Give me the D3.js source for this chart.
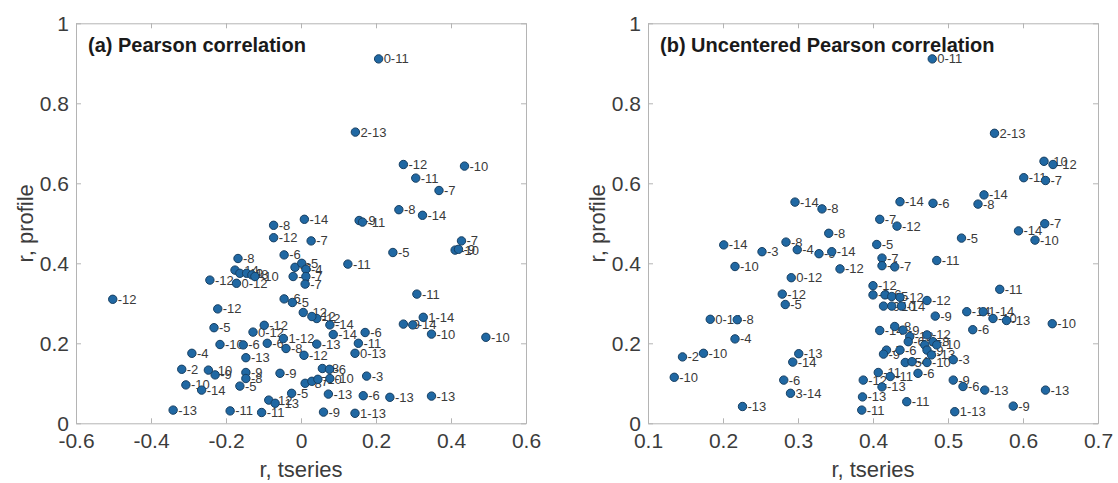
<!DOCTYPE html>
<html>
<head>
<meta charset="utf-8">
<script src="https://cdn.jsdelivr.net/npm/d3@7"></script>
<style>
    body { margin: 0; background: #fff; }
    text { font-family: "Liberation Sans", Arial, sans-serif; }
</style>
</head>
<body>
<script>
const yTicks = [0, 0.2, 0.4, 0.6, 0.8, 1];
const pearsonTicks = [-0.6, -0.4, -0.2, 0, 0.2, 0.4, 0.6];
const uncenteredTicks = [0.1, 0.2, 0.3, 0.4, 0.5, 0.6, 0.7];

// [r tseries, r profile, label]
const pearsonPoints = [
    [0.207, 0.911, '0-11'], [0.145, 0.728, '2-13'], [0.273, 0.647, '-12'], [0.436, 0.643, '-10'],
    [0.306, 0.613, '-11'], [0.368, 0.582, '-7'], [0.261, 0.534, '-8'], [0.324, 0.520, '-14'],
    [0.155, 0.507, '-9'], [0.164, 0.503, '-11'], [0.009, 0.510, '-14'], [-0.073, 0.495, '-8'],
    [-0.073, 0.464, '-12'], [0.027, 0.456, '-7'], [0.245, 0.427, '-5'], [0.428, 0.456, '-7'],
    [0.411, 0.433, '-10'], [0.420, 0.435, '-9'], [0.125, 0.398, '-11'], [-0.045, 0.421, '-6'],
    [-0.016, 0.390, '-3'], [0.002, 0.400, '-5'], [0.013, 0.385, '-4'], [-0.021, 0.367, '-2'],
    [0.013, 0.367, '-7'], [0.011, 0.348, '-7'], [-0.168, 0.412, '-8'], [-0.176, 0.383, '-14'],
    [-0.163, 0.375, '-11'], [-0.145, 0.375, '-9'], [-0.131, 0.371, '-8'], [-0.123, 0.367, '-10'],
    [-0.172, 0.350, '0-12'], [-0.243, 0.358, '-12'], [-0.502, 0.310, '-12'], [-0.222, 0.286, '-12'],
    [-0.232, 0.239, '-5'], [-0.216, 0.197, '-10'], [-0.154, 0.196, '-6'], [-0.128, 0.228, '0-12'],
    [-0.098, 0.245, '-12'], [-0.090, 0.200, '-6'], [-0.047, 0.212, '1-12'], [-0.040, 0.187, '-8'],
    [-0.291, 0.175, '-4'], [-0.147, 0.164, '-13'], [-0.318, 0.135, '-2'], [-0.247, 0.133, '-10'],
    [-0.229, 0.121, '-9'], [-0.147, 0.127, '-9'], [-0.147, 0.112, '-8'], [-0.163, 0.093, '-5'],
    [-0.056, 0.125, '-9'], [-0.307, 0.096, '-10'], [-0.265, 0.083, '-14'], [-0.341, 0.033, '-13'],
    [-0.189, 0.031, '-11'], [-0.105, 0.027, '-11'], [-0.086, 0.058, '-12'], [-0.069, 0.050, '-13'],
    [-0.025, 0.075, '-5'], [0.060, 0.028, '-9'], [0.011, 0.100, '-8'], [0.029, 0.105, '-7'],
    [0.045, 0.110, '-10'], [0.057, 0.137, '-8'], [0.076, 0.135, '-6'], [0.077, 0.112, '-10'],
    [0.073, 0.073, '-13'], [0.166, 0.069, '-6'], [0.144, 0.025, '1-13'], [0.175, 0.118, '-3'],
    [0.144, 0.175, '0-13'], [0.153, 0.200, '-11'], [0.171, 0.227, '-6'], [0.086, 0.222, '-14'],
    [0.077, 0.246, '-14'], [0.042, 0.262, '-12'], [0.029, 0.267, '-12'], [0.006, 0.277, '-12'],
    [0.042, 0.198, '-13'], [0.008, 0.170, '-12'], [-0.045, 0.311, '-6'], [-0.023, 0.302, '-5'],
    [0.309, 0.323, '-11'], [0.273, 0.248, '-9'], [0.298, 0.246, '-14'], [0.326, 0.265, '1-14'],
    [0.348, 0.223, '-10'], [0.493, 0.215, '-10'], [0.237, 0.065, '-13'], [0.348, 0.068, '-13']
];

const uncenteredPoints = [
    [0.479, 0.911, '0-11'], [0.562, 0.725, '2-13'], [0.628, 0.655, '-10'], [0.640, 0.647, '-12'],
    [0.601, 0.614, '-11'], [0.630, 0.607, '-7'], [0.548, 0.571, '-14'], [0.540, 0.548, '-8'],
    [0.296, 0.553, '-14'], [0.332, 0.536, '-8'], [0.436, 0.554, '-14'], [0.480, 0.550, '-6'],
    [0.409, 0.510, '-7'], [0.432, 0.493, '-12'], [0.629, 0.499, '-7'], [0.594, 0.481, '-14'],
    [0.616, 0.458, '-10'], [0.518, 0.463, '-5'], [0.341, 0.475, '-8'], [0.201, 0.446, '-14'],
    [0.252, 0.429, '-3'], [0.284, 0.453, '-8'], [0.299, 0.434, '-4'], [0.328, 0.424, '-9'],
    [0.345, 0.429, '-14'], [0.405, 0.447, '-5'], [0.216, 0.392, '-10'], [0.356, 0.386, '-12'],
    [0.291, 0.364, '0-12'], [0.412, 0.413, '-7'], [0.412, 0.394, '-4'], [0.429, 0.391, '-7'],
    [0.485, 0.407, '-11'], [0.279, 0.323, '-12'], [0.283, 0.297, '-5'], [0.400, 0.344, '-12'],
    [0.400, 0.321, '-8'], [0.416, 0.321, '-6'], [0.425, 0.317, '-5'], [0.436, 0.315, '-12'],
    [0.472, 0.307, '-12'], [0.414, 0.293, '-9'], [0.425, 0.293, '-10'], [0.438, 0.293, '-14'],
    [0.483, 0.268, '-9'], [0.525, 0.279, '-14'], [0.547, 0.279, '1-14'], [0.560, 0.262, '-10'],
    [0.578, 0.257, '-13'], [0.569, 0.335, '-11'], [0.533, 0.234, '-6'], [0.639, 0.249, '-10'],
    [0.183, 0.260, '0-14'], [0.219, 0.259, '-8'], [0.216, 0.211, '-4'], [0.146, 0.166, '-2'],
    [0.174, 0.175, '-10'], [0.135, 0.115, '-10'], [0.301, 0.174, '-13'], [0.293, 0.153, '-14'],
    [0.281, 0.108, '-6'], [0.290, 0.075, '3-14'], [0.226, 0.042, '-13'], [0.409, 0.232, '-14'],
    [0.429, 0.242, '-8'], [0.440, 0.233, '-9'], [0.449, 0.217, '-12'], [0.447, 0.204, '-6'],
    [0.472, 0.221, '-12'], [0.469, 0.196, '-7'], [0.480, 0.204, '-8'], [0.485, 0.196, '-10'],
    [0.472, 0.183, '-9'], [0.478, 0.171, '-13'], [0.418, 0.183, '-7'], [0.414, 0.173, '-9'],
    [0.436, 0.183, '-6'], [0.443, 0.152, '-5'], [0.452, 0.154, '-4'], [0.472, 0.152, '-10'],
    [0.507, 0.159, '-3'], [0.460, 0.125, '-6'], [0.407, 0.127, '-11'], [0.423, 0.117, '-11'],
    [0.387, 0.108, '-12'], [0.412, 0.091, '-13'], [0.386, 0.066, '-13'], [0.385, 0.033, '-11'],
    [0.445, 0.054, '-11'], [0.509, 0.029, '1-13'], [0.507, 0.108, '-9'], [0.520, 0.092, '-6'],
    [0.549, 0.083, '-13'], [0.587, 0.043, '-9'], [0.630, 0.083, '-13']
];

const tickFormat = d => String(Math.round(d * 10) / 10);

class ScatterPanel {
    #g
    #left
    #top
    #width
    #height
    #x
    #y

    constructor(svg, left, top, width, height) {
        this.#left = left;
        this.#top = top;
        this.#width = width;
        this.#height = height;
        this.#g = svg.append('g').attr('class', 'panel');
    }

    setScales(xDomain, yDomain) {
        this.#x = d3.scaleLinear().domain(xDomain).range([this.#left, this.#left + this.#width]);
        this.#y = d3.scaleLinear().domain(yDomain).range([this.#top + this.#height, this.#top]);
    }

    renderAxes(xTicks, yTicks) {
        const g = this.#g;
        const bottom = this.#top + this.#height;
        const right = this.#left + this.#width;

        g.append('g')
            .attr('class', 'x axis')
            .attr('transform', 'translate(0,' + bottom + ')')
            .call(d3.axisBottom(this.#x).tickValues(xTicks).tickSizeInner(-5).tickSizeOuter(0)
                .tickPadding(10).tickFormat(tickFormat));
        g.append('g')
            .attr('class', 'x axis')
            .attr('transform', 'translate(0,' + this.#top + ')')
            .call(d3.axisTop(this.#x).tickValues(xTicks).tickSizeInner(-5).tickSizeOuter(0).tickFormat(''));
        g.append('g')
            .attr('class', 'y axis')
            .attr('transform', 'translate(' + this.#left + ',0)')
            .call(d3.axisLeft(this.#y).tickValues(yTicks).tickSizeInner(-5).tickSizeOuter(0)
                .tickPadding(7).tickFormat(tickFormat));
        g.append('g')
            .attr('class', 'y axis')
            .attr('transform', 'translate(' + right + ',0)')
            .call(d3.axisRight(this.#y).tickValues(yTicks).tickSizeInner(-5).tickSizeOuter(0).tickFormat(''));

        g.selectAll('.axis path.domain').attr('stroke', '#b4b4b4');
        g.selectAll('.axis .tick line').attr('stroke', '#b4b4b4');
        g.selectAll('.axis .tick text')
            .attr('fill', '#3c3c3c')
            .style('font-size', '21px');
    }

    renderPoints(points) {
        const body = this.#g.append('g').attr('class', 'body');

        // labels go first so the markers sit on top of them, as in the figure
        body.selectAll('text.lbl')
            .data(points)
            .enter().append('text')
            .attr('class', 'lbl')
            .attr('x', d => this.#x(d[0]) + 5)
            .attr('y', d => this.#y(d[1]))
            .attr('dy', '0.35em')
            .attr('fill', '#3a3a3a')
            .style('font-size', '13px')
            .text(d => d[2]);

        body.selectAll('circle')
            .data(points)
            .enter().append('circle')
            .attr('cx', d => this.#x(d[0]))
            .attr('cy', d => this.#y(d[1]))
            .attr('r', 4.2)
            .attr('fill', '#2068a3')
            .attr('stroke', '#173f62')
            .attr('stroke-width', 1);
    }

    renderLabels(title, xLabel, yLabel) {
        const g = this.#g;
        g.append('text')
            .attr('x', this.#left + 12)
            .attr('y', this.#top + 29)
            .attr('fill', '#1a1a1a')
            .style('font-size', '20px')
            .style('font-weight', 'bold')
            .text(title);
        g.append('text')
            .attr('x', this.#left + this.#width / 2)
            .attr('y', this.#top + this.#height + 54)
            .attr('text-anchor', 'middle')
            .attr('fill', '#3c3c3c')
            .style('font-size', '22px')
            .text(xLabel);
        g.append('text')
            .attr('transform', 'translate(' + (this.#left - 43) + ',' + (this.#top + this.#height / 2) + ') rotate(-90)')
            .attr('text-anchor', 'middle')
            .attr('fill', '#3c3c3c')
            .style('font-size', '22px')
            .text(yLabel);
    }
}

const svg = d3.select('body').append('svg')
    .attr('width', 1118)
    .attr('height', 483);

const panelA = new ScatterPanel(svg, 76, 23.3, 450, 400);
panelA.setScales([-0.6, 0.6], [0, 1]);
panelA.renderAxes(pearsonTicks, yTicks);
panelA.renderPoints(pearsonPoints);
panelA.renderLabels('(a) Pearson correlation', 'r, tseries', 'r, profile');

const panelB = new ScatterPanel(svg, 648, 23.3, 450, 400);
panelB.setScales([0.1, 0.7], [0, 1]);
panelB.renderAxes(uncenteredTicks, yTicks);
panelB.renderPoints(uncenteredPoints);
panelB.renderLabels('(b) Uncentered Pearson correlation', 'r, tseries', 'r, profile');
</script>
</body>
</html>
